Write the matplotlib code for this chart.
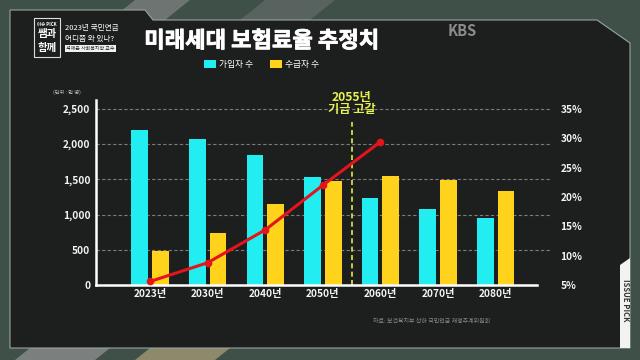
import matplotlib
matplotlib.use('Agg')
import matplotlib.pyplot as plt
from matplotlib.patches import Polygon, Rectangle
import matplotlib.patheffects as pe
import numpy as np

plt.rcParams['font.family'] = ['Noto Sans CJK KR', 'DejaVu Sans']

### data
years = ['2023년', '2030년', '2040년', '2050년', '2060년', '2070년', '2080년']
subscribers = [2200, 2080, 1840, 1530, 1240, 1075, 950]     # 가입자 수 (만 명)
recipients = [485, 735, 1155, 1480, 1555, 1490, 1335]      # 수급자 수 (만 명)
rate_x = [0, 1, 2, 3, 4]                                   # 보험료율 points (2023..2060)
rate = [5.6, 8.8, 14.4, 22.0, 29.4]                        # %
left_ticks = [0, 500, 1000, 1500, 2000, 2500]
left_labels = ['0', '500', '1,000', '1,500', '2,000', '2,500']
right_ticks = [5, 10, 15, 20, 25, 30, 35]
right_labels = ['5%', '10%', '15%', '20%', '25%', '30%', '35%']
depletion_x = 3.5   # 2055년

W, H = 640, 360
CYAN = '#22eef2'
YELLOW = '#ffd21c'
RED = '#e3141c'
WHITE = '#f4f4f4'

fig = plt.figure(figsize=(6.4, 3.6), dpi=100)
fig.patch.set_facecolor('#3f5049')

def px(pts):
    return [(x / W, 1 - y / H) for x, y in pts]

### background stripes
for pts, c in [([(135, 0), (190, 0), (165, 20), (110, 20)], '#6d7472'),
               ([(265, 0), (335, 0), (310, 20), (240, 20)], '#58625e'),
               ([(30, 348), (110, 348), (95, 360), (15, 360)], '#7b807e'),
               ([(150, 348), (230, 348), (215, 360), (135, 360)], '#8c8a6a')]:
    fig.patches.append(Polygon(px(pts), closed=True, transform=fig.transFigure,
                               facecolor=c, edgecolor='none', zorder=-3))

### dark panel with cut corner
panel = [(10, 10), (145, 10), (153, 20), (597, 20), (630, 43), (630, 348), (10, 348)]
fig.patches.append(Polygon(px(panel), closed=True, transform=fig.transFigure,
                           facecolor='#1d1e1e', edgecolor='#9aa39f', lw=0.8, zorder=-2))
### ISSUE PICK tab
fig.patches.append(Polygon(px([(620, 265), (630, 258), (630, 348), (620, 348)]), closed=True,
                           transform=fig.transFigure, facecolor='#f2f2f2', edgecolor='none', zorder=-1))
fig.text(625.5 / W, 1 - 300 / H, 'ISSUE PICK', rotation=270, ha='center', va='center',
         fontsize=5.5, fontweight='bold', color='#333333')

### logo block
fig.patches.append(Rectangle((34 / W, 1 - 57 / H), 26 / W, 39 / H, transform=fig.transFigure,
                             facecolor='#1d1e1e', edgecolor='#dddddd', lw=0.8, zorder=-1))
fig.text(47 / W, 1 - 24 / H, '이슈 PICK', ha='center', va='center', fontsize=3.2,
         fontweight='bold', color='white')
fig.text(47 / W, 1 - 34 / H, '쌤과', ha='center', va='center', fontsize=7.5,
         fontweight='black', color='white')
fig.text(47 / W, 1 - 48 / H, '함께', ha='center', va='center', fontsize=7.5,
         fontweight='black', color='white')
fig.text(65 / W, 1 - 28 / H, '2023년 국민연금', ha='left', va='center', fontsize=5.5, color='white')
fig.text(65 / W, 1 - 39 / H, '어디쯤 와 있나?', ha='left', va='center', fontsize=5.5, color='white')
fig.text(66 / W, 1 - 48.5 / H, '석재은 사회복지학 교수', ha='left', va='center', fontsize=3.6,
         color='#222222', bbox=dict(boxstyle='square,pad=0.25', facecolor='#f0f0f0', edgecolor='none'))
fig.text(462 / W, 1 - 31 / H, 'KBS', ha='center', va='center', fontsize=10.5,
         fontweight='bold', color='#8c8c8c')

### title and legend
fig.text(262 / W, 1 - 41 / H, '미래세대 보험료율 추정치', ha='center', va='center',
         fontsize=16, fontweight='black', color='white',
         path_effects=[pe.withStroke(linewidth=0.6, foreground='white')])
fig.patches.append(Rectangle((204 / W, 1 - 68 / H), 12 / W, 8 / H, transform=fig.transFigure,
                             facecolor=CYAN, edgecolor='none'))
fig.text(219 / W, 1 - 64 / H, '가입자 수', ha='left', va='center', fontsize=6.3, color='white')
fig.patches.append(Rectangle((270 / W, 1 - 68 / H), 12 / W, 8 / H, transform=fig.transFigure,
                             facecolor=YELLOW, edgecolor='none'))
fig.text(285 / W, 1 - 64 / H, '수급자 수', ha='left', va='center', fontsize=6.3, color='white')

fig.text(53 / W, 1 - 92 / H, '(단위 : 만 명)', ha='left', va='center', fontsize=3.8, color='#bbbbbb')
fig.text(490 / W, 1 - 321 / H, '자료: 보건복지부 산하 국민연금 재정추계위원회', ha='right', va='center',
         fontsize=4.3, color='#8a8a8a')

### main axes
ax1 = fig.add_axes([96 / W, 1 - 285 / H, (537 - 96) / W, 185 / H])
ax1.set_facecolor('none')
x = np.arange(len(years))
bw = 0.29
ax1.bar(x - 0.18, subscribers, bw, color=CYAN, zorder=3)
ax1.bar(x + 0.18, recipients, bw, color=YELLOW, zorder=3)
ax1.set_xlim(-0.94, 6.72)
ax1.set_ylim(0, 2628)
ax1.set_yticks(left_ticks)
ax1.set_yticklabels(left_labels)
ax1.set_xticks(x)
ax1.set_xticklabels(years)
ax1.tick_params(axis='both', length=0, colors=WHITE, labelsize=7.3)
ax1.tick_params(axis='x', pad=3)
ax1.tick_params(axis='y', pad=4)
for t in ax1.get_xticklabels() + ax1.get_yticklabels():
    t.set_fontweight('bold')
### dashed grid runs a bit past the plot, up to the % labels
ax1.hlines(left_ticks[1:], -0.94, 6.94, colors='#7a7a7a', lw=0.8,
           linestyles=(0, (3, 2)), zorder=1, clip_on=False)
for s in ['top', 'right']:
    ax1.spines[s].set_visible(False)
for s in ['left', 'bottom']:
    ax1.spines[s].set_color('white')
    ax1.spines[s].set_linewidth(1.8)
    ax1.spines[s].set_zorder(5)

### 2055 depletion marker
ax1.axvline(depletion_x, ymin=0, ymax=0.88, color='#e4ec3c', lw=1.2, linestyle=(0, (3, 2)), zorder=4)
ax1.text(depletion_x, 2400, '2055년\n기금 고갈', ha='center', va='bottom', fontsize=8.8,
         fontweight='bold', color='#e6f04e', linespacing=0.95, clip_on=False)

### rate line on the right axis
ax2 = ax1.twinx()
ax2.set_ylim(5, 36.53)
ax2.plot(rate_x, rate, color=RED, lw=2.2, marker='o', markersize=4.5, zorder=6)
ax2.set_yticks(right_ticks)
ax2.set_yticklabels(right_labels)
ax2.tick_params(axis='y', length=0, colors=WHITE, labelsize=7.3, pad=17)
for t in ax2.get_yticklabels():
    t.set_fontweight('bold')
for s in ax2.spines.values():
    s.set_visible(False)

fig.savefig('out.png', dpi=100, facecolor=fig.get_facecolor())
